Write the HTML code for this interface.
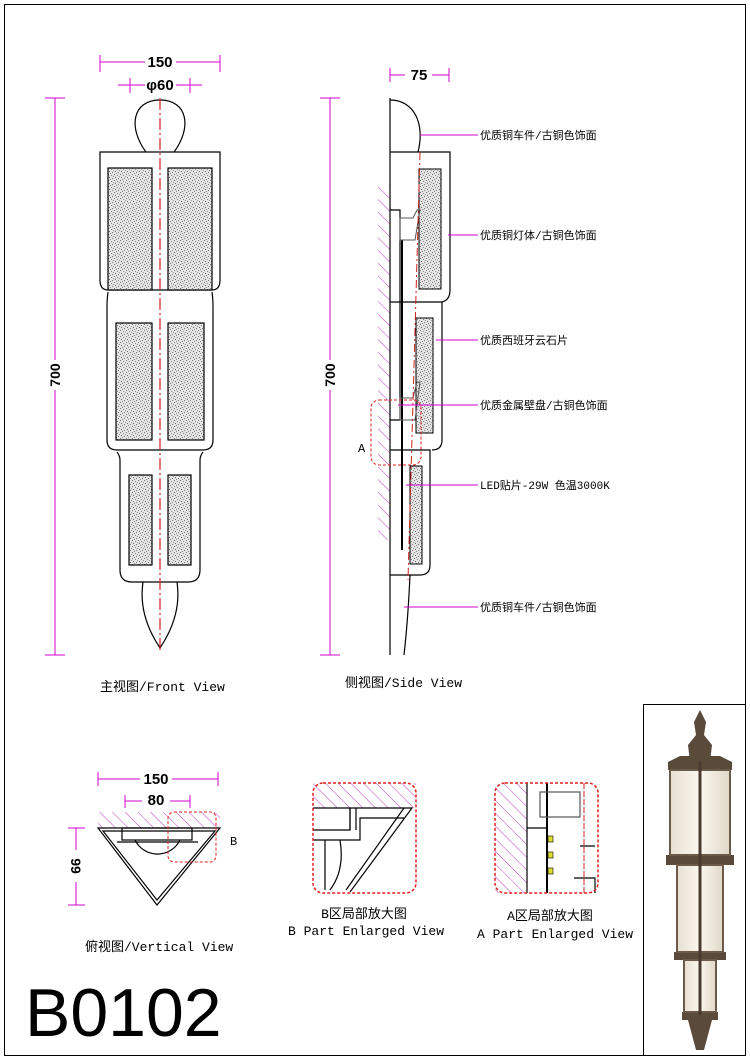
<!DOCTYPE html>
<html><head><meta charset="utf-8"><style>
html,body{margin:0;padding:0;background:#fff}
svg{display:block}
text{font-family:"Liberation Mono","Noto Sans CJK SC",monospace}
text.s{font-family:"Liberation Sans",sans-serif}
</style></head><body>
<svg width="750" height="1060" viewBox="0 0 750 1060" xmlns="http://www.w3.org/2000/svg">
<defs>
<pattern id="st" width="6" height="6" patternUnits="userSpaceOnUse">
<rect width="6" height="6" fill="#e4e4e4"/>
<rect x="0" y="0" width="1" height="1" fill="#777"/><rect x="3" y="1" width="1" height="1" fill="#888"/>
<rect x="1" y="3" width="1" height="1" fill="#666"/><rect x="4" y="4" width="1" height="1" fill="#777"/>
<rect x="5" y="2" width="1" height="1" fill="#999"/><rect x="2" y="5" width="1" height="1" fill="#888"/>
</pattern>
<pattern id="hat" width="9" height="9" patternUnits="userSpaceOnUse" patternTransform="rotate(-45)">
<line x1="0" y1="0" x2="0" y2="9" stroke="#c040c0" stroke-width="1"/>
</pattern>
<linearGradient id="gl" x1="0" x2="1"><stop offset="0" stop-color="#e8e0d2"/><stop offset=".5" stop-color="#fbf7ee"/><stop offset="1" stop-color="#e0d8c8"/></linearGradient>
</defs>
<rect x="4.5" y="4.5" width="741" height="1051" fill="none" stroke="#000"/>

<!-- FRONT VIEW -->
<g stroke="#000" fill="none" stroke-width="1.2">
<path d="M146,152 C128,128 132,100 160,100 C188,100 192,128 174,152"/>
<path d="M100,152 H220 V280 Q220,290 212,290 H108 Q100,290 100,280 Z"/>
<rect x="108" y="168" width="44" height="122" fill="url(#st)"/>
<rect x="168" y="168" width="44" height="122" fill="url(#st)"/>
<path d="M108,292 Q107,300 107,305 V440 Q107,450 117,450 H203 Q213,450 213,440 V305 Q213,300 212,292"/>
<rect x="116" y="323" width="36" height="117" fill="url(#st)"/>
<rect x="168" y="323" width="36" height="117" fill="url(#st)"/>
<path d="M117,452 Q120,456 120,460 V570 Q120,582 132,582 H188 Q200,582 200,570 V460 Q200,456 203,452"/>
<rect x="129" y="475" width="23" height="90" fill="url(#st)"/>
<rect x="168" y="475" width="23" height="90" fill="url(#st)"/>
<path d="M143,582 Q138,615 160,648 Q182,615 177,582"/>
</g>
<line x1="160" y1="98" x2="160" y2="650" stroke="#d02020" stroke-width="1.2" stroke-dasharray="12,3,2,3"/>
<g stroke="#d000d0" fill="none" stroke-width="1">
<line x1="100" y1="55" x2="100" y2="72"/><line x1="220" y1="55" x2="220" y2="72"/>
<line x1="100" y1="62" x2="145" y2="62"/><line x1="176" y1="62" x2="220" y2="62"/>
<line x1="118" y1="85" x2="145" y2="85"/><line x1="176" y1="85" x2="202" y2="85"/>
<line x1="130" y1="78" x2="130" y2="93"/><line x1="190" y1="78" x2="190" y2="93"/>
<line x1="45" y1="98" x2="65" y2="98"/><line x1="45" y1="655" x2="65" y2="655"/>
<line x1="55" y1="98" x2="55" y2="360"/><line x1="55" y1="390" x2="55" y2="655"/>
</g>
<text class="s" x="160" y="67" font-size="15" font-weight="bold" text-anchor="middle">150</text>
<text class="s" x="160" y="90" font-size="15" font-weight="bold" text-anchor="middle">φ60</text>
<text class="s" x="55" y="380" font-size="14" font-weight="bold" text-anchor="middle" transform="rotate(-90 55 375)">700</text>
<text x="100" y="691" font-size="13">主视图/Front View</text>

<!-- SIDE VIEW -->
<rect x="378" y="185" width="12" height="355" fill="url(#hat)"/>
<g stroke="#000" fill="none" stroke-width="1.2">
<line x1="390" y1="98" x2="390" y2="655"/>
<path d="M390,100 C415,100 425,125 418,152"/>
<path d="M390,152 H450 V290 Q450,300 442,302"/>
<path d="M390,302 H442 V440 Q442,450 432,450"/>
<path d="M390,450 H430 V565 Q430,575 420,575 H390"/>
<path d="M410,575 Q408,620 404,655"/>
<path d="M390,210 H400 V420 H390"/>
<line x1="402" y1="240" x2="402" y2="550" stroke-width="2"/>
</g>
<rect x="419" y="169" width="22" height="120" fill="url(#st)" stroke="#000"/>
<rect x="416" y="318" width="17" height="115" fill="url(#st)" stroke="#000"/>
<rect x="410" y="466" width="12" height="98" fill="url(#st)" stroke="#000"/>
<path d="M400,240 V218 H413 L417,210 H420 L415,240 Z M400,420 V398 H413 L417,382 H420 L415,420 Z" fill="none" stroke="#555"/>
<line x1="420" y1="152" x2="408" y2="580" stroke="#d02020" stroke-dasharray="8,3,2,3"/>
<rect x="371" y="400" width="50" height="65" rx="8" fill="none" stroke="#e02020" stroke-dasharray="3,2"/>
<text x="358" y="452" font-size="12">A</text>
<g stroke="#d000d0" stroke-width="1">
<line x1="390" y1="68" x2="390" y2="82"/><line x1="449" y1="68" x2="449" y2="82"/>
<line x1="390" y1="75" x2="405" y2="75"/><line x1="432" y1="75" x2="449" y2="75"/>
<line x1="320" y1="98" x2="340" y2="98"/><line x1="320" y1="655" x2="340" y2="655"/>
<line x1="330" y1="98" x2="330" y2="360"/><line x1="330" y1="390" x2="330" y2="655"/>
<line x1="420" y1="135" x2="478" y2="135"/>
<line x1="448" y1="235" x2="478" y2="235"/>
<line x1="436" y1="340" x2="478" y2="340"/>
<line x1="398" y1="405" x2="478" y2="405"/>
<line x1="406" y1="485" x2="478" y2="485"/>
<line x1="404" y1="607" x2="478" y2="607"/>
</g>
<text class="s" x="419" y="80" font-size="15" font-weight="bold" text-anchor="middle">75</text>
<text class="s" x="330" y="380" font-size="14" font-weight="bold" text-anchor="middle" transform="rotate(-90 330 375)">700</text>
<g font-size="11">
<text x="480" y="139">优质铜车件/古铜色饰面</text>
<text x="480" y="239">优质铜灯体/古铜色饰面</text>
<text x="480" y="344">优质西班牙云石片</text>
<text x="480" y="409">优质金属壁盘/古铜色饰面</text>
<text x="480" y="489">LED贴片-29W 色温3000K</text>
<text x="480" y="611">优质铜车件/古铜色饰面</text>
</g>
<text x="345" y="687" font-size="13">侧视图/Side View</text>

<!-- VERTICAL VIEW -->
<rect x="98" y="812" width="122" height="16" fill="url(#hat)"/>
<g stroke="#000" fill="none" stroke-width="1.2">
<path d="M98,828 H220 L157,905 Z"/>
<path d="M103,831 H215 L157,900 Z"/>
<rect x="122" y="828" width="70" height="12"/>
<path d="M135,840 A25,25 0 0 0 180,840"/>
<path d="M117,842 H198"/>
</g>
<rect x="168" y="812" width="48" height="50" rx="6" fill="none" stroke="#e02020" stroke-dasharray="3,2"/>
<text x="230" y="845" font-size="12">B</text>
<g stroke="#d000d0" stroke-width="1">
<line x1="98" y1="772" x2="98" y2="786"/><line x1="218" y1="772" x2="218" y2="786"/>
<line x1="98" y1="779" x2="140" y2="779"/><line x1="172" y1="779" x2="218" y2="779"/>
<line x1="125" y1="795" x2="125" y2="808"/><line x1="190" y1="795" x2="190" y2="808"/>
<line x1="125" y1="801" x2="142" y2="801"/><line x1="170" y1="801" x2="190" y2="801"/>
<line x1="68" y1="828" x2="85" y2="828"/><line x1="68" y1="905" x2="85" y2="905"/>
<line x1="76" y1="828" x2="76" y2="850"/><line x1="76" y1="882" x2="76" y2="905"/>
</g>
<text class="s" x="156" y="784" font-size="15" font-weight="bold" text-anchor="middle">150</text>
<text class="s" x="156" y="805" font-size="15" font-weight="bold" text-anchor="middle">80</text>
<text class="s" x="76" y="871" font-size="14" font-weight="bold" text-anchor="middle" transform="rotate(90 76 866)">99</text>
<text x="85" y="951" font-size="13">俯视图/Vertical View</text>

<!-- B ENLARGED -->
<rect x="313" y="783" width="103" height="25" fill="url(#hat)"/>
<g stroke="#000" fill="none" stroke-width="1.2">
<path d="M313,808 H412 L350,892"/>
<path d="M404,808 L346,890"/>
<path d="M313,830 H350 V808 M313,840 H360 V818 H404"/>
<path d="M350,808 V830 M356,808 V830"/>
<path d="M325,840 V890 M340,840 Q345,870 330,890"/>
</g>
<rect x="313" y="783" width="103" height="110" rx="10" fill="none" stroke="#e02020" stroke-width="1.5" stroke-dasharray="3,2"/>
<text x="364" y="918" font-size="13" text-anchor="middle">B区局部放大图</text>
<text x="366" y="935" font-size="13" text-anchor="middle">B Part Enlarged View</text>

<!-- A ENLARGED -->
<rect x="495" y="783" width="32" height="110" fill="url(#hat)"/>
<g stroke="#000" fill="none" stroke-width="1.2">
<line x1="527" y1="783" x2="527" y2="893"/>
<line x1="547" y1="783" x2="547" y2="893" stroke-width="2"/>
<path d="M527,828 H547"/>
<rect x="540" y="792" width="40" height="25" stroke="#555"/>
<path d="M580,846 H595 M574,878 H595 V893"/>
</g>
<line x1="584" y1="783" x2="584" y2="893" stroke="#d02020" stroke-dasharray="6,2"/>
<rect x="548" y="836" width="5" height="6" fill="#dddd30" stroke="#000" stroke-width=".6"/>
<rect x="548" y="852" width="5" height="6" fill="#dddd30" stroke="#000" stroke-width=".6"/>
<rect x="548" y="868" width="5" height="6" fill="#dddd30" stroke="#000" stroke-width=".6"/>
<rect x="495" y="783" width="103" height="110" rx="10" fill="none" stroke="#e02020" stroke-width="1.5" stroke-dasharray="3,2"/>
<text x="550" y="920" font-size="13" text-anchor="middle">A区局部放大图</text>
<text x="555" y="938" font-size="13" text-anchor="middle">A Part Enlarged View</text>

<text class="s" x="25" y="1036" font-size="68">B0102</text>

<!-- PHOTO -->
<rect x="643.5" y="704.5" width="102" height="351" fill="#fff" stroke="#000"/>
<g fill="#5a4a3a">
<path d="M700,710 L706,722 L704,735 L712,745 L710,762 H690 L688,745 L696,735 L694,722 Z"/>
<path d="M668,762 L680,756 H720 L732,762 V770 H668 Z"/>
<rect x="666" y="855" width="68" height="10"/>
<rect x="674" y="952" width="52" height="8"/>
<rect x="682" y="1012" width="36" height="8"/>
<path d="M688,1020 H712 L704,1050 H696 Z"/>
</g>
<rect x="670" y="770" width="60" height="85" fill="url(#gl)" stroke="#6a5a4a" stroke-width="2"/>
<rect x="677" y="865" width="46" height="87" fill="url(#gl)" stroke="#6a5a4a" stroke-width="2"/>
<rect x="684" y="960" width="32" height="52" fill="url(#gl)" stroke="#6a5a4a" stroke-width="2"/>
<line x1="700" y1="762" x2="700" y2="1015" stroke="#4a3a30" stroke-width="3"/>
</svg>
</body></html>
